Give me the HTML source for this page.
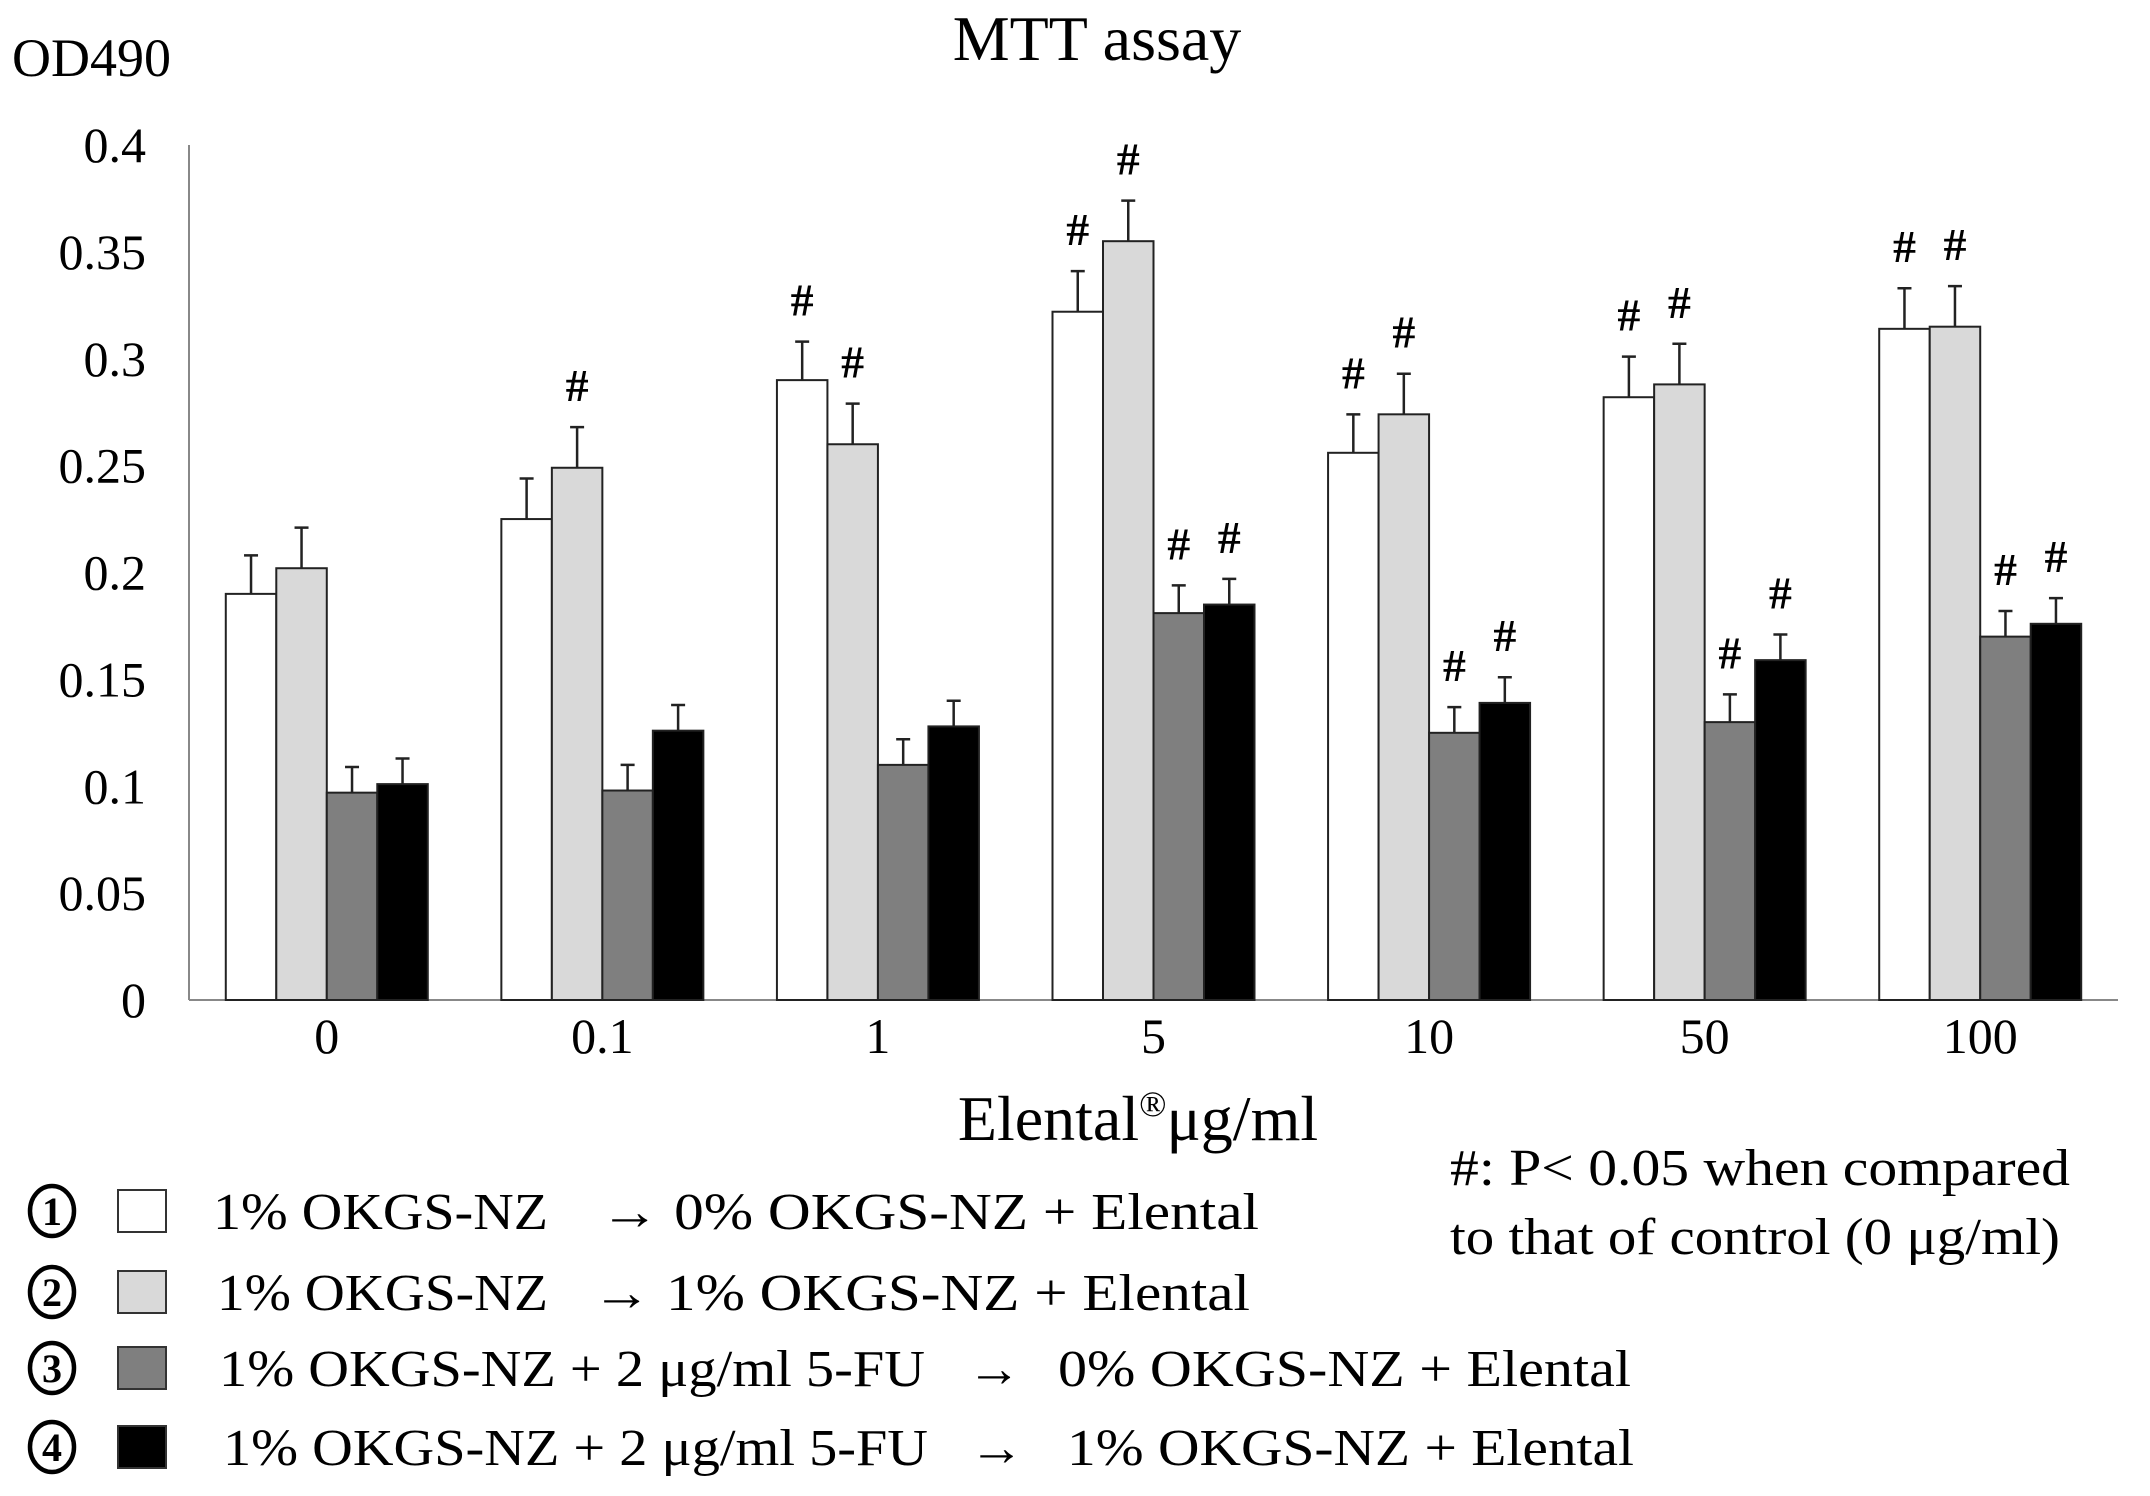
<!DOCTYPE html>
<html><head><meta charset="utf-8"><style>
html,body{margin:0;padding:0;background:#fff;}
svg{display:block;font-family:"Liberation Serif","DejaVu Serif",serif;}
</style></head><body>
<svg id="chart" width="2150" height="1496" viewBox="0 0 2150 1496">
<text x="1097" y="60" font-size="64" text-anchor="middle">MTT assay</text>
<text x="12" y="76" font-size="54">OD490</text>
<g id="axes"></g>
<g id="bars"></g>
<text x="1138" y="1140" font-size="64" text-anchor="middle">Elental<tspan font-size="36" dy="-24">®</tspan><tspan dy="24">μg/ml</tspan></text>
<text x="1450" y="1185" font-size="52" textLength="620" lengthAdjust="spacingAndGlyphs">#: P&lt; 0.05  when compared</text>
<text x="1450" y="1254" font-size="52" textLength="610" lengthAdjust="spacingAndGlyphs">to that of control (0 μg/ml)</text>
<g id="legend"></g>
</svg>
<script>
const categories = ["0","0.1","1","5","10","50","100"];
const s1 = [0.190,0.225,0.290,0.322,0.256,0.282,0.314];
const s2 = [0.202,0.249,0.260,0.355,0.274,0.288,0.315];
const s3 = [0.097,0.098,0.110,0.181,0.125,0.130,0.170];
const s4 = [0.101,0.126,0.128,0.185,0.139,0.159,0.176];
const e1 = [0.018,0.019,0.018,0.019,0.018,0.019,0.019];
const e2 = [0.019,0.019,0.019,0.019,0.019,0.019,0.019];
const e3 = [0.012,0.012,0.012,0.013,0.012,0.013,0.012];
const e4 = [0.012,0.012,0.012,0.012,0.012,0.012,0.012];
const sig1 = [0,0,1,1,1,1,1];
const sig2 = [0,1,1,1,1,1,1];
const sig3 = [0,0,0,1,1,1,1];
const sig4 = [0,0,0,1,1,1,1];
const yTicks = [0,0.05,0.1,0.15,0.2,0.25,0.3,0.35,0.4];
const yTickLabels = ["0","0.05","0.1","0.15","0.2","0.25","0.3","0.35","0.4"];
const seriesLabels = [["1% OKGS-NZ","→ 0% OKGS-NZ  +  Elental"],["1% OKGS-NZ","→ 1% OKGS-NZ  +  Elental"],["1% OKGS-NZ + 2 μg/ml 5-FU","→","0% OKGS-NZ +  Elental"],["1% OKGS-NZ + 2 μg/ml 5-FU","→","1% OKGS-NZ +  Elental"]];

const NS="http://www.w3.org/2000/svg";
const X0=189,X1=2118,Y0=1000,Ytop=145,YMAX=0.4;
const groupW=(X1-X0)/categories.length, barW=50.5;
const y=v=>Y0-(v/YMAX)*(Y0-Ytop);
const xc=i=>X0+groupW*(i+0.5);
function mk(tag,attrs,parent){const e=document.createElementNS(NS,tag);for(const k in attrs)e.setAttribute(k,attrs[k]);parent.appendChild(e);return e;}
const axes=document.getElementById('axes'), bars=document.getElementById('bars');
let l=mk('line',{x1:X0,y1:Ytop,x2:X0,y2:Y0,stroke:'#888','stroke-width':2},axes);


l=mk('line',{x1:X0,y1:Y0,x2:X1,y2:Y0,stroke:'#888','stroke-width':2},axes);


yTicks.forEach((t,i)=>{const e=mk('text',{x:146,y:y(t)+17,'font-size':50,'text-anchor':'end'},axes);e.textContent=yTickLabels[i];

});
categories.forEach((c,i)=>{const e=mk('text',{x:xc(i),y:1053,'font-size':50,'text-anchor':'middle'},axes);e.textContent=c;

});
const series=[s1,s2,s3,s4], errs=[e1,e2,e3,e4], sigs=[sig1,sig2,sig3,sig4];
const fills=['#ffffff','#d9d9d9','#7f7f7f','#000000'];
categories.forEach((c,i)=>{
  series.forEach((s,k)=>{
    const bx=xc(i)-2*barW+k*barW, v=s[i], top=y(v), et=y(v+errs[k][i]), cx=bx+barW/2;
    const r=mk('rect',{x:bx,y:top,width:barW,height:Y0-top,fill:fills[k],stroke:'#222','stroke-width':2},bars);
    
    
    const ln=mk('path',{d:`M${cx},${top}V${et}M${cx-7},${et}H${cx+7}`,stroke:'#222','stroke-width':2.5,fill:'none'},bars);
    
    
    if(sigs[k][i]){const h=mk('text',{x:cx,y:et-26,'font-size':46,'text-anchor':'middle','font-weight':'bold'},bars);h.textContent='#';
      
      }
  });
});
const lg=document.getElementById('legend');
const rowsY=[1211,1292,1368,1447];
const segs=[[[213,548],[600,1259]],[[217,548],[592,1250]],[[219,925],[967,1021],[1058,1631]],[[223,928],[969,1024],[1067,1634]]];
const nums=['1','2','3','4'];
rowsY.forEach((cy,k)=>{
  const c=mk('ellipse',{cx:52,cy:cy,rx:22,ry:25,fill:'#fff',stroke:'#000','stroke-width':4.5},lg);
  
  
  const n=mk('text',{x:52,y:cy+14,'font-size':40,'text-anchor':'middle','font-weight':'bold'},lg);n.textContent=nums[k];
  
  
  const r=mk('rect',{x:118,y:cy-21,width:48,height:42,fill:fills[k],stroke:'#333','stroke-width':2},lg);
  
  
  seriesLabels[k].forEach((t,j)=>{const [a,b]=segs[k][j];
    const e=mk('text',{x:a,y:cy+18,'font-size':52,textLength:b-a,lengthAdjust:'spacingAndGlyphs'},lg);e.textContent=t;
    
    });
});
</script>
</body></html>
